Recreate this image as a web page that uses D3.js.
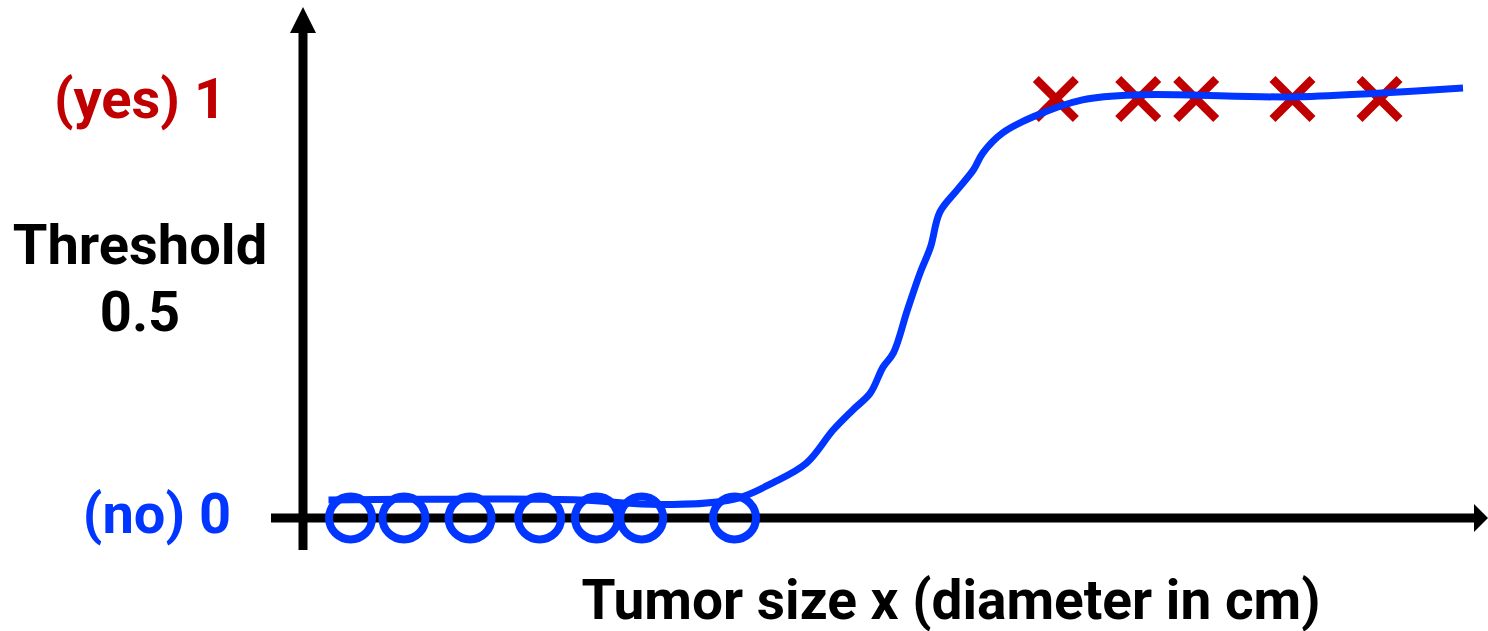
<!DOCTYPE html>
<html>
<head>
<meta charset="utf-8">
<script src="https://cdn.jsdelivr.net/npm/d3@7"></script>
<style>
  html, body { margin: 0; padding: 0; background: #fff; }
  svg { display: block; }
  text { font-family: Roboto, "Noto Sans", sans-serif; font-weight: 700; }
</style>
</head>
<body>
<svg id="chart" width="1488" height="631"></svg>
<script>
// Benign tumours (label 0): tumour sizes
const benignSizes = [0.41, 0.87, 1.44, 2.04, 2.53, 2.92, 3.72];
// Malignant tumours (label 1): tumour sizes
const malignantSizes = [6.49, 7.20, 7.70, 8.53, 9.28];

// Fitted logistic curve, sampled along the size axis
const curveSizes = [0.22, 1.27, 2.39, 3.08, 3.72, 4.05, 4.34, 4.57, 4.74, 4.89, 5.00, 5.09, 5.21, 5.32, 5.41, 5.49, 5.64, 5.78, 5.86, 6.03, 6.29, 6.72, 7.22, 8.51, 9.26, 10.0];
const curveProbs = [0.043, 0.045, 0.043, 0.032, 0.045, 0.084, 0.131, 0.210, 0.258, 0.298, 0.360, 0.394, 0.496, 0.585, 0.647, 0.730, 0.783, 0.831, 0.871, 0.919, 0.957, 0.998, 1.010, 1.005, 1.014, 1.026];

// Y-axis labels (dy: baseline offsets of each line from the label's value)
const yLabels = [
  { value: 1, lines: ["(yes) 1"], dy: [19], cx: 140, color: "#c00000" },
  { value: 0.5, lines: ["Threshold", "0.5"], dy: [-45, 22], cx: 140, color: "#000000" },
  { value: 0, lines: ["(no) 0"], dy: [15], cx: 157, color: "#0036ff" }
];
const xTitle = "Tumor size x (diameter in cm)";

const BLUE = "#0036ff";
const RED = "#c00000";

const svg = d3.select("#chart");
const x = d3.scaleLinear().domain([0, 10]).range([303, 1463]);
const y = d3.scaleLinear().domain([0, 1]).range([518, 99]);

// Axes with arrowheads
const x0 = x(0), y0 = y(0);
svg.append("line")
  .attr("x1", x0).attr("x2", x0).attr("y1", 32).attr("y2", 550)
  .attr("stroke", "#000").attr("stroke-width", 9);
svg.append("path")
  .attr("d", `M${x0},7 L${x0 - 13},33 L${x0 + 13},33 Z`).attr("fill", "#000");
svg.append("line")
  .attr("x1", 271).attr("x2", 1475).attr("y1", y0).attr("y2", y0)
  .attr("stroke", "#000").attr("stroke-width", 9);
svg.append("path")
  .attr("d", `M1488,${y0} L1474,${y0 - 14} L1474,${y0 + 14} Z`).attr("fill", "#000");

// Y labels
yLabels.forEach(l => {
  const t = svg.append("text")
    .attr("text-anchor", "middle")
    .attr("font-size", 56)
    .attr("fill", l.color);
  l.lines.forEach((s, i) => {
    t.append("tspan")
      .attr("x", l.cx)
      .attr("y", y(l.value) + l.dy[i])
      .text(s);
  });
});

// X title
svg.append("text")
  .attr("x", 951).attr("y", 619)
  .attr("text-anchor", "middle")
  .attr("font-size", 55)
  .attr("fill", "#000")
  .text(xTitle);

// Benign points: open circles
svg.append("g").selectAll("circle")
  .data(benignSizes).join("circle")
  .attr("cx", d => x(d)).attr("cy", y(0))
  .attr("r", 21.5)
  .attr("fill", "none").attr("stroke", BLUE).attr("stroke-width", 8);

// Malignant points: crosses
const arm = 20;
svg.append("g").selectAll("path")
  .data(malignantSizes).join("path")
  .attr("d", d => {
    const cx = x(d), cy = y(1);
    return `M${cx - arm},${cy - arm}L${cx + arm},${cy + arm}M${cx - arm},${cy + arm}L${cx + arm},${cy - arm}`;
  })
  .attr("fill", "none").attr("stroke", RED).attr("stroke-width", 8.5);

// Logistic curve
const pts = curveSizes.map((s, i) => [s, curveProbs[i]]);
svg.append("path")
  .datum(pts)
  .attr("d", d3.line().x(d => x(d[0])).y(d => y(d[1])).curve(d3.curveCatmullRom.alpha(0.5)))
  .attr("fill", "none").attr("stroke", BLUE).attr("stroke-width", 7)
  .attr("stroke-linecap", "butt").attr("stroke-linejoin", "round");
</script>
</body>
</html>
